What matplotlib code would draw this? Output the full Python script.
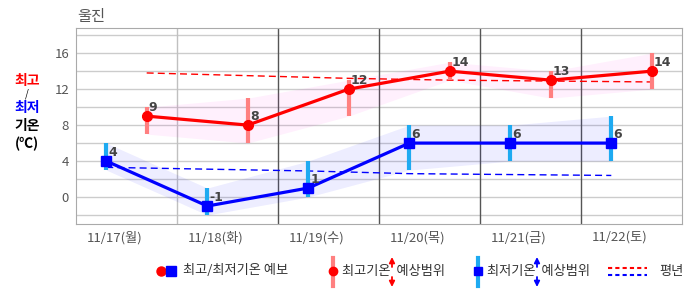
import numpy as np
import matplotlib
matplotlib.use("Agg")
import matplotlib.pyplot as plt

plt.rcParams['font.family'] = ['Noto Sans CJK KR', 'DejaVu Sans']

# 데이터
days = ["11/17(월)", "11/18(화)", "11/19(수)", "11/20(목)", "11/21(금)", "11/22(토)"]
t_max = [9, 8, 12, 14, 13, 14]
t_min = [4, -1, 1, 6, 6, 6]
max_hi = [10, 11, 13, 15, 14, 16]
max_lo = [7, 6, 9, 13, 11, 12]
min_hi = [6, 1, 4, 8, 8, 9]
min_lo = [3, -2, 0, 3, 4, 4]
norm_max = [13.8, 13.5, 13.2, 13.0, 12.9, 12.8]
norm_min = [3.3, 3.1, 2.9, 2.6, 2.5, 2.4]

W, H = 686, 295
fig = plt.figure(figsize=(W / 100, H / 100), dpi=100)
ax = fig.add_axes([76 / W, (H - 224) / H, 606 / W, 196 / H])

idx = np.arange(len(days))
x_max = idx + 0.7
x_min = idx + 0.3

# 격자
for y in range(-2, 19, 2):
    ax.axhline(y, color='#cccccc', lw=1, zorder=0)
for b in range(1, len(days)):
    ax.axvline(b, color='#c0c0c0' if b == 1 else '#555555', lw=1, zorder=0)

# 예상범위 띠
ax.fill_between(x_max, max_lo, max_hi, color='#ff00e0', alpha=0.06, lw=0, zorder=1)
ax.fill_between(x_min, min_lo, min_hi, color='#0000ff', alpha=0.07, lw=0, zorder=1)

# 평년
ax.plot(x_max, norm_max, color='#ff0000', lw=1, ls=(0, (5, 3)), zorder=2)
ax.plot(x_min, norm_min, color='#0000ff', lw=1, ls=(0, (5, 3)), zorder=2)

# 예상범위 막대
ax.vlines(x_max, max_lo, max_hi, color='#ff8080', lw=3, zorder=3)
ax.vlines(x_min, min_lo, min_hi, color='#1eaaf1', lw=3, zorder=3)

# 예보
ax.plot(x_max, t_max, color='#ff0000', lw=2.3, marker='o', ms=7, zorder=4)
ax.plot(x_min, t_min, color='#0000ff', lw=2.3, marker='s', ms=7, zorder=4)

for x, v in zip(x_max, t_max):
    ax.annotate(str(v), (x, v), xytext=(1.5, 1.5), textcoords='offset points',
                ha='left', va='bottom', fontsize=9, color='#444444',
                fontweight='bold', family='DejaVu Sans', zorder=5)
for x, v in zip(x_min, t_min):
    ax.annotate(str(v), (x, v), xytext=(1.5, 1.5), textcoords='offset points',
                ha='left', va='bottom', fontsize=9, color='#444444',
                fontweight='bold', family='DejaVu Sans', zorder=5)

ax.set_xlim(0, len(days))
ax.set_ylim(-3, 18.8)
ax.set_yticks([0, 4, 8, 12, 16])
ax.set_xticks(idx + 0.385)
ax.set_xticklabels(days)
ax.tick_params(length=0, labelsize=9.5, labelcolor='#555555', pad=5)
for s in ax.spines.values():
    s.set_color('#aaaaaa')

# 제목, 축 이름, 범례
ov = fig.add_axes([0, 0, 1, 1], zorder=-1)
ov.set_xlim(0, W)
ov.set_ylim(H, 0)
ov.axis('off')

ov.text(77, 16, "울진", fontsize=11, color='#555555', va='center')
ov.text(27, 81, "최고", color='red', fontsize=10, fontweight='bold', ha='center', va='center')
ov.text(27, 94, "/", color='black', fontsize=7, ha='center', va='center')
ov.text(27, 108, "최저", color='blue', fontsize=10, fontweight='bold', ha='center', va='center')
ov.text(27, 126, "기온", color='black', fontsize=10, fontweight='bold', ha='center', va='center')
ov.text(27, 144, "(℃)", color='black', fontsize=10, fontweight='bold', ha='center', va='center')

ly = 271
fs = 9.5
ov.plot([161], [ly], 'o', color='red', ms=6.5)
ov.plot([171], [ly], 's', color='blue', ms=6.5)
ov.text(183, ly, "최고/최저기온 예보", fontsize=fs, color='#333333', va='center')

arrow_kw = dict(arrowstyle='-|>', lw=1.3, mutation_scale=8, shrinkA=0, shrinkB=0)

ov.plot([333, 333], [258, 286], color='#ff8080', lw=3)
ov.plot([333], [ly], 'o', color='red', ms=6)
ov.text(342, ly, "최고기온  예상범위", fontsize=fs, color='#333333', va='center')
ov.annotate("", (392, 257), (392, 267), arrowprops=dict(color='red', **arrow_kw))
ov.annotate("", (392, 287), (392, 277), arrowprops=dict(color='red', **arrow_kw))

ov.plot([478, 478], [258, 286], color='#1eaaf1', lw=3)
ov.plot([478], [ly], 's', color='blue', ms=6)
ov.text(487, ly, "최저기온  예상범위", fontsize=fs, color='#333333', va='center')
ov.annotate("", (537, 257), (537, 267), arrowprops=dict(color='blue', **arrow_kw))
ov.annotate("", (537, 287), (537, 277), arrowprops=dict(color='blue', **arrow_kw))

ov.plot([608, 647], [267.5, 267.5], color='red', lw=1.5, ls=(0, (2, 1.5)))
ov.plot([608, 647], [274.5, 274.5], color='blue', lw=1.5, ls=(0, (2, 1.5)))
ov.text(659, ly, "평년", fontsize=fs, color='#333333', va='center')

fig.savefig("out.png", dpi=100)
